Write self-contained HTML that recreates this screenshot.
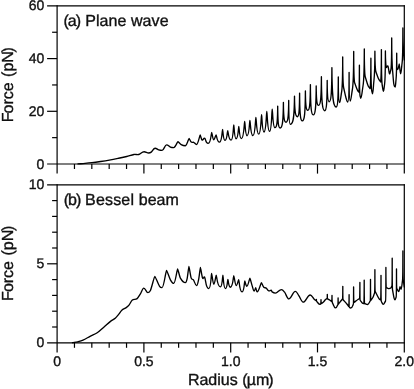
<!DOCTYPE html><html><head><meta charset="utf-8"><style>html,body{margin:0;padding:0;background:#fff}svg{display:block}text{text-rendering:geometricPrecision;font-family:"Liberation Sans",sans-serif;fill:#111;stroke:#111;stroke-width:0.35px}svg{will-change:transform}</style></head><body>
<svg width="414" height="389" viewBox="0 0 414 389">
<rect width="414" height="389" fill="#fff"/>
<g stroke="#000" stroke-width="1.2" fill="none" stroke-linecap="butt">
<path d="M47.10,5.90L404.90,5.90"/>
<path d="M47.10,164.00L404.90,164.00"/>
<path d="M57.10,5.30L57.10,173.60"/>
<path d="M404.30,5.30L404.30,173.60"/>
<path d="M52.10,137.65L57.10,137.65"/>
<path d="M47.10,111.30L57.10,111.30"/>
<path d="M52.10,84.95L57.10,84.95"/>
<path d="M47.10,58.60L57.10,58.60"/>
<path d="M52.10,32.25L57.10,32.25"/>
<path d="M74.46,164.00L74.46,169.00"/>
<path d="M91.82,164.00L91.82,169.00"/>
<path d="M109.18,164.00L109.18,169.00"/>
<path d="M126.54,164.00L126.54,169.00"/>
<path d="M143.90,164.00L143.90,173.60"/>
<path d="M161.26,164.00L161.26,169.00"/>
<path d="M178.62,164.00L178.62,169.00"/>
<path d="M195.98,164.00L195.98,169.00"/>
<path d="M213.34,164.00L213.34,169.00"/>
<path d="M230.70,164.00L230.70,173.60"/>
<path d="M248.06,164.00L248.06,169.00"/>
<path d="M265.42,164.00L265.42,169.00"/>
<path d="M282.78,164.00L282.78,169.00"/>
<path d="M300.14,164.00L300.14,169.00"/>
<path d="M317.50,164.00L317.50,173.60"/>
<path d="M334.86,164.00L334.86,169.00"/>
<path d="M352.22,164.00L352.22,169.00"/>
<path d="M369.58,164.00L369.58,169.00"/>
<path d="M386.94,164.00L386.94,169.00"/>
<path d="M47.10,184.80L404.90,184.80"/>
<path d="M47.10,342.80L404.90,342.80"/>
<path d="M57.10,184.20L57.10,352.40"/>
<path d="M404.30,184.20L404.30,352.40"/>
<path d="M52.10,327.00L57.10,327.00"/>
<path d="M52.10,311.20L57.10,311.20"/>
<path d="M52.10,295.40L57.10,295.40"/>
<path d="M52.10,279.60L57.10,279.60"/>
<path d="M47.10,263.80L57.10,263.80"/>
<path d="M52.10,248.00L57.10,248.00"/>
<path d="M52.10,232.20L57.10,232.20"/>
<path d="M52.10,216.40L57.10,216.40"/>
<path d="M52.10,200.60L57.10,200.60"/>
<path d="M74.46,342.80L74.46,347.80"/>
<path d="M91.82,342.80L91.82,347.80"/>
<path d="M109.18,342.80L109.18,347.80"/>
<path d="M126.54,342.80L126.54,347.80"/>
<path d="M143.90,342.80L143.90,352.40"/>
<path d="M161.26,342.80L161.26,347.80"/>
<path d="M178.62,342.80L178.62,347.80"/>
<path d="M195.98,342.80L195.98,347.80"/>
<path d="M213.34,342.80L213.34,347.80"/>
<path d="M230.70,342.80L230.70,352.40"/>
<path d="M248.06,342.80L248.06,347.80"/>
<path d="M265.42,342.80L265.42,347.80"/>
<path d="M282.78,342.80L282.78,347.80"/>
<path d="M300.14,342.80L300.14,347.80"/>
<path d="M317.50,342.80L317.50,352.40"/>
<path d="M334.86,342.80L334.86,347.80"/>
<path d="M352.22,342.80L352.22,347.80"/>
<path d="M369.58,342.80L369.58,347.80"/>
<path d="M386.94,342.80L386.94,347.80"/>
</g>
<g stroke="#000" stroke-width="1.35" fill="none" stroke-linejoin="round" stroke-linecap="round">
<path d="M78.00,163.90C80.33,163.73 82.67,163.60 85.00,163.40C87.30,163.20 89.60,162.98 91.90,162.70C94.80,162.35 97.70,161.93 100.60,161.50C103.50,161.07 106.40,160.62 109.30,160.10C112.20,159.58 115.10,159.00 118.00,158.40C120.90,157.80 123.80,157.21 126.70,156.50C129.13,155.91 131.57,154.91 134.00,154.50C135.57,154.24 137.13,154.93 138.70,154.50C140.50,154.00 141.94,151.70 144.10,151.70C145.94,151.70 146.86,153.00 148.70,153.00C149.70,153.00 150.37,152.72 151.20,152.10C152.50,151.12 153.54,148.20 155.10,148.20C156.54,148.20 157.50,149.52 158.70,149.90C159.83,150.26 160.74,150.40 162.10,150.40C163.90,150.40 164.80,144.90 166.60,144.90C168.12,144.90 169.13,146.62 170.40,147.10C171.50,147.52 172.38,147.60 173.70,147.60C175.38,147.60 177.35,141.60 177.90,141.60C178.33,141.60 180.10,144.00 181.20,144.60C182.60,145.37 183.72,145.70 185.40,145.70C186.88,145.70 188.62,138.40 189.10,138.40C189.37,138.40 190.50,141.51 191.20,142.10C192.03,142.81 192.87,141.93 193.70,142.30C194.67,142.73 195.44,144.50 196.60,144.50C198.04,144.50 199.73,135.00 200.20,135.00C200.43,135.00 201.40,139.55 202.00,140.00C202.83,140.62 203.50,138.20 204.50,138.20C205.94,138.20 205.29,143.40 208.10,143.40C210.91,143.40 211.23,132.50 211.70,132.50C211.95,132.50 212.84,139.90 213.60,139.90C214.60,139.90 215.78,134.80 216.10,134.80C216.56,134.80 216.87,142.10 219.60,142.10C221.94,142.10 222.21,129.50 222.60,129.50C222.91,129.50 223.13,140.40 225.00,140.40C227.11,140.40 227.35,130.70 227.70,130.70C228.14,130.70 228.45,140.10 231.10,140.10C233.21,140.10 233.45,124.90 233.80,124.90C234.10,124.90 234.31,138.70 236.10,138.70C238.21,138.70 238.45,126.50 238.80,126.50C239.14,126.50 239.37,138.60 241.40,138.60C243.97,138.60 244.27,121.50 244.70,121.50C245.01,121.50 245.23,135.70 247.10,135.70C249.28,135.70 249.54,120.50 249.90,120.50C250.29,120.50 250.56,135.60 252.90,135.60C255.24,135.60 255.51,117.50 255.90,117.50C256.26,117.50 256.52,134.10 258.70,134.10C260.96,134.10 261.22,114.70 261.60,114.70C261.91,114.70 262.13,132.00 264.00,132.00C266.18,132.00 266.44,111.50 266.80,111.50C267.16,111.50 267.42,131.40 269.60,131.40C271.63,131.40 271.86,109.10 272.20,109.10C272.55,109.10 272.79,127.60 274.90,127.60C277.08,127.60 277.59,122.25 277.70,106.20C277.80,122.55 278.42,128.00 280.10,128.00C282.41,128.00 283.27,121.60 283.40,102.40C283.50,117.25 284.18,122.20 286.00,122.20C287.89,122.20 288.59,116.75 288.70,100.40C288.77,118.33 289.21,124.30 290.40,124.30C293.27,124.30 294.34,117.25 294.50,96.10C294.62,111.55 295.37,116.70 297.40,116.70C298.94,116.70 299.51,110.80 299.60,93.10C299.71,113.95 300.41,120.90 302.30,120.90C304.47,120.90 305.28,113.43 305.40,91.00C305.50,105.47 306.12,110.30 307.80,110.30C309.62,110.30 310.30,103.88 310.40,84.60C310.51,107.33 311.24,114.90 313.20,114.90C315.30,114.90 316.08,107.65 316.20,85.90C316.30,100.45 316.92,105.30 318.60,105.30C320.56,105.30 321.29,98.15 321.40,76.70C321.53,102.20 322.39,110.70 324.70,110.70C326.45,110.70 327.10,103.15 327.20,80.50C327.28,96.47 327.80,101.80 329.20,101.80C331.09,101.80 331.79,93.25 331.90,67.60C332.07,97.15 333.19,107.00 336.20,107.00C337.67,107.00 338.22,99.50 338.30,77.00C338.35,96.12 338.69,102.50 339.60,102.50C340.40,102.50 340.93,95.50 341.60,92.00C341.97,90.08 342.66,83.25 342.70,57.00C342.74,80.25 343.37,86.56 343.70,88.00C344.43,91.17 345.17,95.00 345.90,97.50C346.53,99.66 347.04,102.00 347.80,102.00C348.71,102.00 349.05,94.60 349.10,72.40C349.14,93.85 349.43,101.00 350.20,101.00C351.04,101.00 351.60,93.67 352.30,90.00C352.77,87.56 353.64,80.38 353.70,51.50C353.74,75.12 354.37,82.14 354.70,83.00C355.67,85.50 356.63,88.38 357.60,90.50C358.00,91.38 358.40,91.50 358.80,92.00C359.00,92.25 359.38,85.30 359.40,65.20C359.43,88.30 359.87,95.27 360.10,96.00C360.33,96.73 360.52,98.20 360.80,98.20C361.68,98.20 362.27,90.07 363.00,86.00C363.43,83.60 364.25,76.75 364.30,49.00C364.34,70.00 364.97,75.95 365.30,77.00C366.20,79.83 367.10,83.30 368.00,85.50C368.67,87.13 369.33,87.50 370.00,88.50C370.30,88.95 370.86,80.92 370.90,58.20C370.94,82.80 371.50,89.95 371.80,91.00C372.07,91.93 372.28,93.80 372.60,93.80C373.08,93.80 373.40,85.93 373.80,82.00C374.17,78.39 374.86,74.30 374.90,51.20C374.94,66.80 375.63,71.01 376.00,72.00C376.80,74.17 377.60,76.76 378.40,78.50C379.13,80.09 379.87,80.83 380.60,82.00C380.87,82.42 381.37,73.90 381.40,49.60C381.43,76.15 381.93,83.71 382.20,85.00C382.63,87.10 382.98,91.30 383.50,91.30C383.94,91.30 384.23,86.43 384.60,84.00C384.87,82.23 385.37,75.75 385.40,51.00C385.44,63.38 386.13,67.82 386.50,67.50C387.00,67.07 387.50,65.15 388.00,66.20C388.50,67.25 389.00,73.12 389.50,73.80C389.93,74.39 390.37,71.27 390.80,70.00C391.10,69.12 391.66,62.00 391.70,38.00C391.74,63.50 392.37,68.36 392.70,72.00C393.07,76.00 393.43,81.80 393.80,84.00C394.27,86.80 394.64,87.00 395.20,87.00C395.52,87.00 395.73,82.33 396.00,80.00C396.23,77.96 396.67,73.30 396.70,53.20C396.74,65.42 397.00,69.50 397.70,69.50C398.34,69.50 399.09,64.00 399.30,64.00C399.47,64.00 400.08,73.80 400.60,73.80C401.20,73.80 401.60,66.60 402.10,63.00C402.37,61.08 402.87,54.25 402.90,28.00C402.93,46.00 403.43,48.44 403.70,52.00C403.90,54.67 404.10,57.33 404.30,60.00"/>
<path d="M72.50,342.70C74.20,342.40 75.90,342.20 77.60,341.80C79.40,341.37 81.20,341.00 83.00,340.20C85.50,339.10 88.00,337.40 90.50,336.10C92.73,334.94 94.97,334.29 97.20,332.80C99.40,331.33 101.60,329.09 103.80,327.20C106.03,325.29 108.27,323.14 110.50,321.40C112.17,320.10 113.83,319.55 115.50,318.10C116.60,317.15 117.70,315.58 118.80,314.20C119.80,312.95 120.80,311.09 121.80,310.20C123.27,308.89 124.73,308.67 126.20,307.60C127.20,306.87 128.20,306.05 129.20,304.80C130.17,303.59 131.13,300.96 132.10,300.20C133.77,298.89 135.43,299.87 137.10,298.60C138.20,297.77 139.30,295.62 140.40,293.90C141.53,292.12 142.44,288.10 143.80,288.10C145.44,288.10 146.26,292.60 147.90,292.60C148.90,292.60 149.57,292.57 150.40,290.60C151.87,287.14 154.23,276.30 154.80,276.30C155.42,276.30 158.00,283.92 159.60,286.40C160.43,287.69 161.10,287.60 162.10,287.60C163.86,287.60 165.93,270.30 166.50,270.30C167.01,270.30 169.10,277.47 170.40,279.80C171.53,281.83 172.44,283.40 173.80,283.40C175.32,283.40 177.11,268.80 177.60,268.80C177.96,268.80 179.47,276.45 180.40,278.10C182.07,281.05 183.40,282.60 185.40,282.60C186.08,282.60 186.53,281.52 187.10,278.90C187.70,276.12 188.67,266.40 188.90,266.40C189.20,266.40 190.43,275.82 191.20,278.10C191.93,280.28 192.67,278.78 193.40,279.80C194.47,281.28 195.32,285.60 196.60,285.60C197.48,285.60 198.07,282.13 198.80,278.60C199.33,276.03 200.19,267.30 200.40,267.30C200.69,267.30 201.87,276.37 202.60,278.10C203.27,279.67 203.93,276.07 204.60,277.20C206.00,279.57 205.52,288.60 208.80,288.60C210.98,288.60 211.24,273.40 211.60,273.40C211.89,273.40 212.92,284.20 213.80,284.20C214.76,284.20 215.89,275.10 216.20,275.10C216.75,275.10 217.12,286.90 220.40,286.90C222.35,286.90 222.58,275.10 222.90,275.10C223.22,275.10 223.45,288.60 225.40,288.60C227.35,288.60 227.58,279.30 227.90,279.30C228.22,279.30 228.45,287.20 230.40,287.20C233.05,287.20 233.36,275.60 233.80,275.60C234.11,275.60 235.24,285.60 236.20,285.60C237.20,285.60 238.38,279.60 238.70,279.60C239.14,279.60 239.45,291.90 242.10,291.90C244.21,291.90 244.45,280.90 244.80,280.90C245.06,280.90 246.00,286.40 246.80,286.40C248.04,286.40 249.50,278.20 249.90,278.20C250.19,278.20 251.37,283.40 252.10,285.60C252.80,287.70 253.36,291.10 254.20,291.10C254.80,291.10 255.50,287.60 255.70,287.60C255.88,287.60 256.54,291.90 257.10,291.90C258.82,291.90 260.84,282.70 261.40,282.70C261.71,282.70 263.00,286.30 263.80,287.20C264.60,288.10 265.40,287.51 266.20,288.10C266.77,288.51 267.33,289.73 267.90,290.20C268.47,290.67 269.03,290.90 269.60,290.90C270.13,290.90 270.67,289.99 271.20,290.20C271.50,290.32 271.80,291.69 272.10,291.90C273.20,292.66 274.08,293.10 275.40,293.10C277.80,293.10 279.00,289.60 281.40,289.60C282.68,289.60 283.53,290.86 284.60,292.20C286.00,293.96 287.12,298.90 288.80,298.90C291.44,298.90 292.76,291.40 295.40,291.40C296.76,291.40 297.67,294.03 298.80,295.60C300.23,297.59 301.38,302.10 303.10,302.10C305.94,302.10 307.36,295.00 310.20,295.00C311.80,295.00 312.87,297.92 314.20,299.20C314.82,299.79 315.43,300.13 316.05,300.60C316.17,300.69 316.39,300.33 316.40,299.50C316.41,301.08 316.63,301.50 316.75,301.60C317.83,302.50 318.70,304.30 320.00,304.30C320.26,304.30 320.43,304.10 320.65,304.00C320.77,303.95 320.99,302.90 321.00,299.60C321.01,302.60 321.23,303.69 321.35,303.60C322.07,303.07 322.78,302.69 323.50,302.00C324.17,301.36 324.83,300.26 325.50,299.60C325.98,299.12 326.47,298.93 326.95,298.60C327.07,298.52 327.29,297.53 327.30,294.30C327.31,297.75 327.53,298.83 327.65,298.90C328.43,299.37 329.22,299.79 330.00,300.30C330.55,300.66 331.10,301.10 331.65,301.50C331.77,301.58 331.99,300.00 332.00,295.50C332.01,300.83 332.23,302.34 332.35,302.60C332.87,303.73 333.38,305.18 333.90,306.00C334.50,306.95 334.30,307.90 335.70,307.90C336.87,307.90 336.70,306.51 337.20,305.80C337.38,305.54 337.57,305.27 337.75,305.00C337.87,304.83 338.09,303.25 338.10,298.00C338.11,302.50 338.33,304.14 338.45,304.00C339.53,302.67 340.62,301.35 341.70,300.00C341.95,299.69 342.20,299.33 342.45,299.00C342.57,298.84 342.79,295.82 342.80,286.30C342.81,296.35 343.03,299.57 343.15,299.70C344.53,301.30 345.92,302.80 347.30,304.50C347.78,305.10 348.27,305.90 348.75,306.60C348.87,306.77 349.09,303.62 349.10,294.70C349.11,304.15 349.33,307.23 349.45,307.30C349.83,307.53 349.70,308.00 350.60,308.00C352.67,308.00 352.37,305.67 353.25,304.50C353.37,304.35 353.59,300.12 353.60,287.00C353.61,298.62 353.83,302.59 353.95,302.50C355.40,301.40 356.85,300.18 358.30,299.20C358.72,298.92 359.13,298.87 359.55,298.70C359.67,298.65 359.89,294.65 359.90,282.50C359.91,296.00 360.13,300.36 360.25,300.50C361.00,301.40 361.75,302.57 362.50,303.20C362.95,303.57 363.40,303.40 363.85,303.50C363.97,303.53 364.19,297.68 364.20,280.20C364.21,297.68 364.43,303.46 364.55,303.50C365.57,303.83 366.38,304.50 367.60,304.50C368.62,304.50 369.30,302.30 370.15,301.20C370.27,301.05 370.49,295.75 370.50,279.40C370.51,295.15 370.73,300.57 370.85,300.40C371.57,299.33 372.28,298.63 373.00,297.20C373.52,296.17 374.03,294.40 374.55,293.00C374.67,292.68 374.89,287.18 374.90,269.70C374.91,286.05 375.13,291.28 375.25,291.50C376.50,293.90 377.75,296.73 379.00,298.70C379.55,299.57 380.10,299.57 380.65,300.00C380.77,300.09 380.99,293.82 381.00,275.30C381.01,294.95 381.23,301.32 381.35,301.50C381.97,302.43 382.46,304.30 383.20,304.30C384.14,304.30 384.77,302.10 385.55,301.00C385.67,300.84 385.89,292.60 385.90,267.40C385.91,282.48 386.13,287.44 386.25,287.50C387.00,287.87 387.75,288.52 388.50,288.60C389.27,288.68 390.03,288.60 390.80,288.00C391.15,287.73 391.50,286.67 391.85,286.00C391.97,285.78 392.19,279.05 392.20,258.20C392.21,282.05 392.43,289.37 392.55,290.00C393.03,292.60 393.52,295.85 394.00,297.80C394.33,299.15 394.60,299.90 395.00,299.90C395.46,299.90 395.77,297.97 396.15,297.00C396.27,296.71 396.49,290.00 396.50,269.00C396.51,283.62 396.73,288.32 396.85,288.50C397.50,289.50 398.02,291.50 398.80,291.50C399.28,291.50 399.84,286.60 400.00,286.60C400.14,286.60 400.66,289.20 401.10,289.20C401.68,289.20 402.07,283.07 402.55,280.00C402.67,279.26 402.89,272.75 402.90,251.00C402.91,272.75 403.13,279.22 403.25,280.00C403.60,282.33 403.95,284.67 404.30,287.00"/>
</g>
<g font-size="14px" text-anchor="end">
<text x="44.3" y="168.5">0</text>
<text x="44.3" y="115.8">20</text>
<text x="44.3" y="63.1">40</text>
<text x="44.3" y="10.4">60</text>
<text x="44.3" y="347.3">0</text>
<text x="44.3" y="268.3">5</text>
<text x="44.3" y="189.3">10</text>
</g>
<g font-size="14px" text-anchor="middle">
<text x="57.1" y="366.4">0</text>
<text x="143.9" y="366.4">0.5</text>
<text x="230.7" y="366.4">1.0</text>
<text x="317.5" y="366.4">1.5</text>
<text x="404.3" y="366.4">2.0</text>
</g>
<g font-size="16px">
<text x="63.5" y="26">(<tspan dx="-1">a</tspan><tspan dx="-1">)</tspan><tspan dx="-0.25"> </tspan><tspan letter-spacing="0.06">Plane wave</tspan></text>
<text x="63.7" y="205">(<tspan dx="-1">b</tspan><tspan dx="-1">)</tspan><tspan dx="-0.6"> </tspan><tspan letter-spacing="0.17">Bessel </tspan>beam</text>
<text x="187.9" y="385">Radius (<tspan dx="-0.65">µm</tspan><tspan dx="-1.1">)</tspan></text>
<text transform="translate(13,122.3) rotate(-90)">F<tspan dx="-1">orce</tspan><tspan dx="1"> (pN</tspan><tspan dx="-1.3">)</tspan></text>
<text transform="translate(13,300.9) rotate(-90)">F<tspan dx="-1">orce</tspan><tspan dx="1"> (pN</tspan><tspan dx="-1.3">)</tspan></text>
</g>
</svg></body></html>
